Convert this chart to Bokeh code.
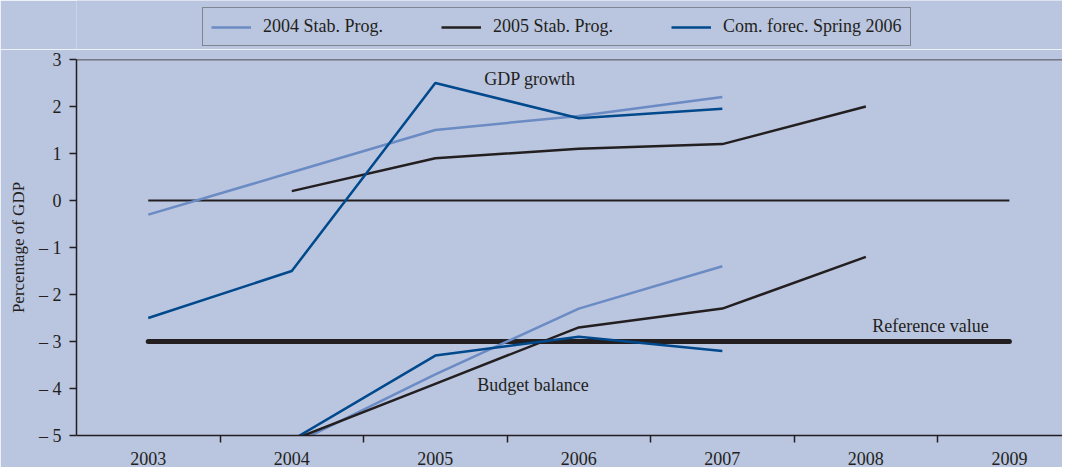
from bokeh.plotting import figure
from bokeh.layouts import column
from bokeh.models import (Range1d, FixedTicker, Legend, LegendItem, Span, Label)
from bokeh.embed import file_html
from bokeh.resources import INLINE

# ---- data ----
years_gdp_2004 = [2003, 2004, 2005, 2006, 2007]
gdp_2004 = [-0.3, 0.6, 1.5, 1.8, 2.2]
years_bud_2004 = [2004, 2005, 2006, 2007]
bud_2004 = [-5.2, -3.7, -2.3, -1.4]

years_gdp_2005 = [2004, 2005, 2006, 2007, 2008]
gdp_2005 = [0.2, 0.9, 1.1, 1.2, 2.0]
years_bud_2005 = [2004, 2005, 2006, 2007, 2008]
bud_2005 = [-5.1, -3.9, -2.7, -2.3, -1.2]

years_gdp_com = [2003, 2004, 2005, 2006, 2007]
gdp_com = [-2.5, -1.5, 2.5, 1.75, 1.95]
years_bud_com = [2004, 2005, 2006, 2007]
bud_com = [-5.1, -3.3, -2.9, -3.2]

zero_x = [2003, 2009]
zero_y = [0, 0]
ref_x = [2003, 2009]
ref_y = [-3, -3]

x_ticks = [2003, 2004, 2005, 2006, 2007, 2008, 2009]
x_labels = ["2003", "2004", "2005", "2006", "2007", "2008", "2009"]
y_ticks = [-5, -4, -3, -2, -1, 0, 1, 2, 3]
y_labels = ["– 5", "– 4", "– 3", "– 2", "– 1", "0", "1", "2", "3"]

series_names = ["2004 Stab. Prog.", "2005 Stab. Prog.", "Com. forec. Spring 2006"]
annot_texts = ["GDP growth", "Budget balance", "Reference value"]
annot_x = [2005.66, 2005.68, 2008.45]
annot_y = [2.58, -3.92, -2.67]

# ---- style ----
BG = "#bac5df"
C_LIGHT = "#6a8bc3"
C_BLACK = "#231f20"
C_DARK = "#00498c"
FONT = "Liberation Serif"
FS = "18px"
W = 1062

# ---- legend strip (series plotted outside its visible range, only the legend shows) ----
top = figure(width=W, height=49, output_backend="svg", toolbar_location=None,
             x_axis_type=None, y_axis_type=None, x_range=Range1d(0, 1), y_range=Range1d(0, 1),
             min_border_left=0, min_border_right=0, min_border_top=0, min_border_bottom=0)
top.background_fill_color = BG
top.border_fill_color = BG
top.outline_line_color = None
top.grid.visible = False
l1 = top.line(years_gdp_2004, gdp_2004, line_color=C_LIGHT, line_width=2.5)
l2 = top.line(years_gdp_2005, gdp_2005, line_color=C_BLACK, line_width=2.5)
l3 = top.line(years_gdp_com, gdp_com, line_color=C_DARK, line_width=2.5)
legend = Legend(items=[LegendItem(label=series_names[0], renderers=[l1]),
                       LegendItem(label=series_names[1], renderers=[l2]),
                       LegendItem(label=series_names[2], renderers=[l3])],
                orientation="horizontal", location=(126, 3),
                label_text_font=FONT, label_text_font_size=FS, label_text_color=C_BLACK,
                background_fill_color=BG, background_fill_alpha=1.0,
                border_line_color="#454545", border_line_width=1.3,
                glyph_width=40, label_standoff=12, spacing=58, padding=8, margin=0)
top.add_layout(legend, "center")

# ---- main chart ----
p = figure(width=W, height=418, output_backend="svg", toolbar_location=None,
           x_range=Range1d(2002.5, 2009.37), y_range=Range1d(-5, 3),
           min_border_left=76, min_border_right=0, min_border_top=10, min_border_bottom=32)
p.background_fill_color = BG
p.border_fill_color = BG
p.outline_line_color = None
p.grid.visible = False

xa = p.xaxis[0]
xa.ticker = FixedTicker(ticks=x_ticks, minor_ticks=[t + 0.5 for t in x_ticks[:-1]])
xa.major_label_overrides = {t: l for t, l in zip(x_ticks, x_labels)}
xa.major_tick_out = 0
xa.major_tick_in = 0
xa.minor_tick_out = 7
xa.minor_tick_in = 0
xa.minor_tick_line_color = C_BLACK
xa.minor_tick_line_width = 1.5
xa.axis_line_color = C_BLACK
xa.axis_line_width = 1.5
xa.major_label_text_font = FONT
xa.major_label_text_font_size = FS
xa.major_label_text_color = C_BLACK
xa.major_label_standoff = 9

ya = p.yaxis[0]
ya.ticker = FixedTicker(ticks=y_ticks)
ya.major_label_overrides = {t: l for t, l in zip(y_ticks, y_labels)}
ya.major_tick_out = 7
ya.major_tick_in = 0
ya.minor_tick_out = 0
ya.minor_tick_in = 0
ya.major_tick_line_color = C_BLACK
ya.major_tick_line_width = 1.5
ya.axis_line_color = C_BLACK
ya.axis_line_width = 1.5
ya.major_label_text_font = FONT
ya.major_label_text_font_size = FS
ya.major_label_text_color = C_BLACK
ya.major_label_standoff = 8
ya.axis_label = "Percentage of GDP"
ya.axis_label_text_font = FONT
ya.axis_label_text_font_size = "17px"
ya.axis_label_text_font_style = "normal"
ya.axis_label_text_color = C_BLACK
ya.axis_label_standoff = 8

p.add_layout(Span(location=3, dimension="width", line_color=C_BLACK, line_width=1.5))

p.line(zero_x, zero_y, line_color=C_BLACK, line_width=2)
p.line(ref_x, ref_y, line_color=C_BLACK, line_width=5, line_cap="round")

p.line(years_gdp_2004, gdp_2004, line_color=C_LIGHT, line_width=2.5)
p.line(years_bud_2004, bud_2004, line_color=C_LIGHT, line_width=2.5)
p.line(years_gdp_2005, gdp_2005, line_color=C_BLACK, line_width=2.5)
p.line(years_bud_2005, bud_2005, line_color=C_BLACK, line_width=2.5)
p.line(years_gdp_com, gdp_com, line_color=C_DARK, line_width=2.5)
p.line(years_bud_com, bud_com, line_color=C_DARK, line_width=2.5)

for t, x, y in zip(annot_texts, annot_x, annot_y):
    p.add_layout(Label(x=x, y=y, text=t, text_align="center", text_baseline="middle",
                       text_font=FONT, text_font_size=FS, text_color=C_BLACK))

layout = column(top, p, spacing=0)
open("out.html", "w").write(file_html(layout, INLINE))
